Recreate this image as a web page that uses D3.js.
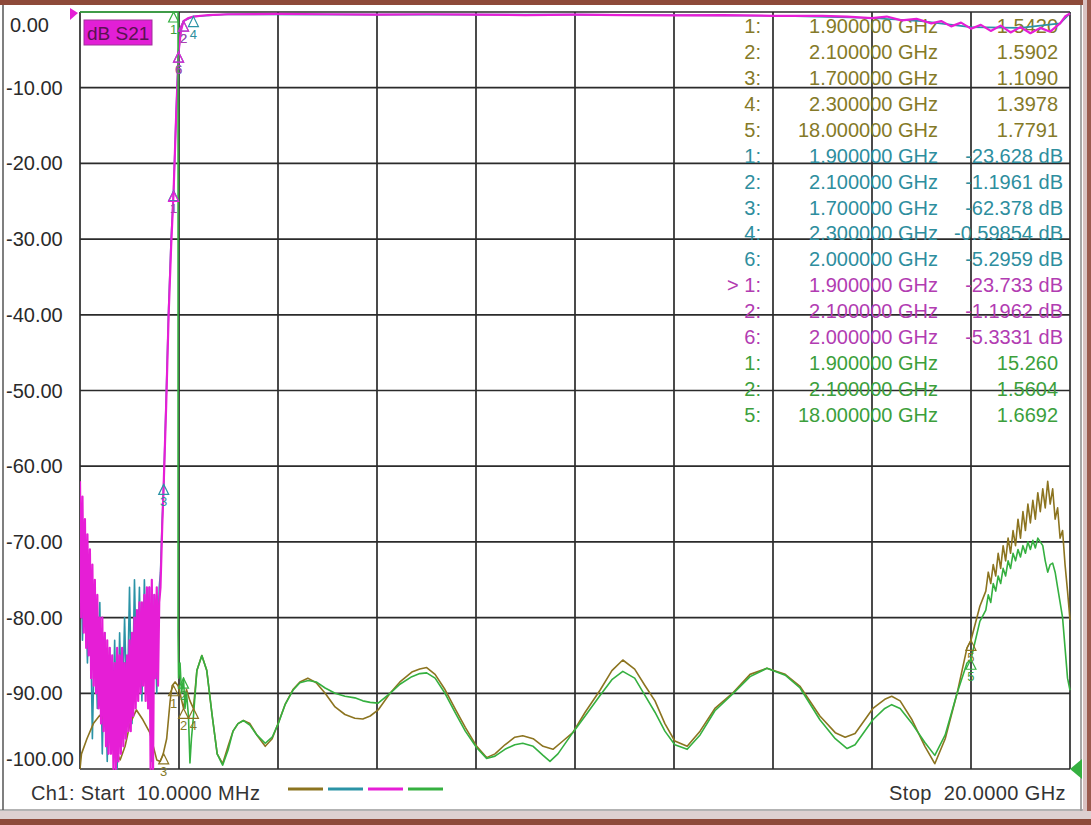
<!DOCTYPE html>
<html><head><meta charset="utf-8">
<script src="https://cdn.jsdelivr.net/npm/d3@7"></script>
<style>
html,body{margin:0;padding:0;background:#fff;}
svg{display:block;font-family:"Liberation Sans",Arial,sans-serif;}
</style></head>
<body><svg id="c" width="1091" height="825"></svg>
<script>
// ---------- DATA ----------
const freqStart = 0.01, freqStop = 20;          // GHz
const yTicks = [0,-10,-20,-30,-40,-50,-60,-70,-80,-90,-100];
const yTickLabels = ["0.00","-10.00","-20.00","-30.00","-40.00","-50.00","-60.00","-70.00","-80.00","-90.00","-100.00"];

// stop-band noise (sweep from 0.01 GHz)
const magentaNoiseStep = 0.025;
const magentaNoise = [-62,-80,-64,-82,-67,-84,-69,-85,-71,-88,-73,-89,-75,-90,-77,-92,-80,-94,-80,-95,-82,-97,-83,-98,-84,-98,-85,-100,-86,-100,-84,-99,-85,-98,-84,-97,-86,-96,-85,-95,-83,-95,-82,-93,-80,-92,-79,-91,-78,-90,-78,-89,-77,-91,-76,-92,-76,-100,-75,-100,-77,-88,-76,-89,-78];
const tealNoiseStep = 0.05;
const tealNoise = [-65,-83,-70,-86,-74,-96,-80,-92,-78,-98,-82,-99,-84,-97,-83,-100,-82,-95,-80,-93,-76,-94,-75,-90,-76,-91,-75,-88,-76,-99,-77,-90,-76];

const magentaPass = [[1.635,-76],[1.67,-68],[1.70,-62.4],[1.75,-52],[1.80,-40],[1.85,-31],[1.90,-23.7],[1.95,-14],[2.00,-5.3],[2.05,-2.4],[2.10,-1.2],[2.20,-0.8],[2.30,-0.6],[2.6,-0.4],[3,-0.3],[4,-0.25],[5,-0.3],[6,-0.35],[7,-0.3],[8,-0.35],[9,-0.4],[10,-0.35],[11,-0.4],[12,-0.45],[13,-0.4],[14,-0.5],[15,-0.5],[15.5,-0.6],[16,-0.8],[16.3,-0.6],[16.6,-1.1],[16.9,-0.9],[17.2,-1.5],[17.4,-1.2],[17.6,-1.9],[17.8,-1.4],[18.0,-2.2],[18.2,-1.7],[18.4,-2.5],[18.6,-1.8],[18.8,-2.7],[19.0,-2.0],[19.2,-2.8],[19.4,-2.1],[19.6,-2.6],[19.8,-1.5],[19.9,-0.6],[20,-0.2]];
const tealPass = [[1.635,-74],[1.67,-67],[1.70,-62.4],[1.75,-51],[1.80,-39],[1.85,-30],[1.90,-23.6],[1.95,-13.5],[2.00,-5.3],[2.05,-2.3],[2.10,-1.2],[2.30,-0.6],[3,-0.3],[6,-0.35],[10,-0.35],[14,-0.5],[16,-0.8],[17,-1.2],[18,-2.0],[19,-2.1],[19.8,-1.5],[20,-0.2]];

const brownTrace = [[0.01,-100],[0.04,-98],[0.15,-96],[0.28,-94],[0.41,-92.9],[0.51,-93.5],[0.62,-95.2],[0.72,-97.5],[0.82,-98.8],[0.92,-97],[1.02,-94],[1.15,-92.2],[1.28,-93.5],[1.42,-95.2],[1.56,-98.8],[1.63,-99],[1.69,-98],[1.76,-96],[1.83,-91],[1.87,-89],[1.93,-88.5],[1.99,-89],[2.03,-90],[2.10,-92],[2.16,-89.5],[2.23,-91],[2.30,-92],[2.37,-87],[2.47,-85],[2.57,-87],[2.68,-93],[2.78,-98],[2.89,-99.3],[3.0,-97],[3.1,-95],[3.2,-94],[3.31,-93.6],[3.44,-94],[3.58,-95.5],[3.75,-97],[3.89,-96],[4.01,-94],[4.15,-91.5],[4.31,-89.5],[4.45,-88.5],[4.61,-88],[4.78,-88.6],[4.96,-90],[5.16,-91.8],[5.36,-92.8],[5.56,-93.3],[5.72,-93.4],[5.87,-93],[6.03,-92.2],[6.27,-90],[6.47,-88.5],[6.71,-87.2],[6.87,-86.8],[7.01,-86.6],[7.18,-87.5],[7.38,-89.5],[7.58,-92],[7.79,-94.5],[8.02,-97],[8.22,-98.5],[8.39,-98],[8.59,-96.8],[8.79,-95.8],[8.95,-95.6],[9.16,-96],[9.36,-97],[9.56,-97.4],[9.76,-96.3],[9.96,-95.2],[10.21,-92.5],[10.51,-89.6],[10.75,-87],[10.97,-85.6],[11.21,-86.8],[11.42,-89],[11.62,-91],[11.82,-94],[12.02,-96.3],[12.27,-97],[12.53,-95],[12.83,-92],[13.2,-89.9],[13.54,-87.5],[13.88,-86.7],[14.25,-87.5],[14.55,-89.1],[14.95,-93],[15.26,-95.2],[15.46,-95.8],[15.66,-95.3],[16.02,-92],[16.26,-90.8],[16.4,-90.4],[16.57,-91],[16.81,-93.5],[17.07,-97],[17.27,-99.3],[17.48,-96],[17.72,-90],[17.92,-84],[18.0,-83],[18.18,-78.5],[18.30,-76.5],[18.35,-74],[18.40,-75.5],[18.45,-73],[18.50,-74.5],[18.55,-71.5],[18.60,-73.5],[18.65,-70.5],[18.70,-72.5],[18.75,-69.5],[18.80,-71.5],[18.85,-68.5],[18.90,-70.5],[18.95,-67],[19.00,-69.5],[19.05,-66],[19.10,-68.5],[19.15,-65],[19.20,-67.5],[19.25,-64.5],[19.30,-67],[19.35,-63.5],[19.40,-66],[19.45,-63],[19.50,-65.5],[19.55,-62],[19.60,-65],[19.65,-63],[19.70,-67],[19.75,-65.5],[19.80,-69.5],[19.85,-68.5],[19.90,-73],[19.95,-76.5],[20.0,-80.3]];

const greenTrace = [[0.01,0],[1.99,0],[1.99,-82],[2.0,-88],[2.03,-86],[2.06,-90],[2.10,-88],[2.13,-92],[2.16,-89.9],[2.2,-93],[2.23,-99.2],[2.26,-96],[2.30,-93.1],[2.37,-87],[2.47,-85],[2.57,-87],[2.68,-93],[2.78,-98],[2.89,-99.5],[3.0,-97.5],[3.1,-95],[3.2,-94],[3.31,-93.6],[3.44,-94.2],[3.58,-95.5],[3.75,-96.6],[3.89,-95.8],[4.02,-93.9],[4.15,-91.5],[4.31,-89.6],[4.45,-88.6],[4.62,-88.3],[4.78,-88.5],[4.96,-89.3],[5.16,-90],[5.36,-90.4],[5.56,-90.6],[5.72,-91],[5.87,-91.2],[6.03,-91.3],[6.27,-90],[6.47,-88.8],[6.71,-87.8],[6.87,-87.4],[7.01,-87.3],[7.18,-88],[7.38,-90],[7.58,-92.5],[7.79,-95],[8.02,-97.2],[8.22,-98.6],[8.39,-98.3],[8.59,-97.4],[8.79,-96.8],[8.95,-96.6],[9.16,-97],[9.36,-98.2],[9.5,-99.0],[9.66,-98],[9.96,-95.2],[10.21,-93],[10.51,-90.3],[10.75,-88.2],[10.97,-87.1],[11.21,-88],[11.42,-90.3],[11.62,-92.5],[11.82,-95],[12.02,-96.8],[12.27,-97.4],[12.53,-95.5],[12.83,-92.3],[13.2,-90],[13.54,-87.8],[13.88,-86.7],[14.25,-87.6],[14.55,-89.3],[14.95,-93.5],[15.26,-96],[15.5,-97.3],[15.66,-96.8],[16.02,-93.5],[16.26,-92],[16.4,-91.5],[16.57,-92],[16.81,-94],[17.07,-96.5],[17.27,-98.2],[17.48,-95.5],[17.72,-90],[17.92,-86],[18.0,-85.5],[18.18,-80.5],[18.30,-79],[18.35,-77],[18.40,-78],[18.45,-75.5],[18.50,-76.5],[18.55,-74.5],[18.60,-75.5],[18.65,-73.5],[18.70,-74.5],[18.75,-72.5],[18.80,-73.5],[18.85,-71.5],[18.90,-72.5],[18.95,-71],[19.00,-72],[19.05,-70.5],[19.10,-71.5],[19.15,-70],[19.20,-71],[19.25,-69.8],[19.30,-70.8],[19.35,-69.5],[19.40,-70],[19.45,-70.5],[19.50,-72.5],[19.55,-74],[19.60,-73],[19.65,-72.8],[19.70,-74],[19.75,-76],[19.80,-78],[19.85,-80],[19.90,-84],[19.95,-88],[20.0,-89.6]];

// markers [freq, plotted value, label]
const brownMarkers = [[1.9,-89,"1"],[2.1,-92,"2"],[1.7,-98,"3"],[2.3,-92,"4"],[18,-83,"5"]];
const tealMarkers = [[1.9,-23.6,"1"],[2.1,-1.2,"2"],[1.7,-62.4,"3"],[2.3,-0.6,"4"],[2.0,-5.3,"6"]];
const magentaMarkers = [[1.9,-23.7,"1"],[2.1,-1.2,"2"],[2.0,-5.3,"6"]];
const greenMarkers = [[1.9,0,"1"],[2.1,-88,"2"],[18,-85.5,"5"]];

// marker readout
const readoutNums = ["1:","2:","3:","4:","5:","1:","2:","3:","4:","6:","> 1:","2:","6:","1:","2:","5:"];
const readoutFreqs = ["1.900000 GHz","2.100000 GHz","1.700000 GHz","2.300000 GHz","18.000000 GHz","1.900000 GHz","2.100000 GHz","1.700000 GHz","2.300000 GHz","2.000000 GHz","1.900000 GHz","2.100000 GHz","2.000000 GHz","1.900000 GHz","2.100000 GHz","18.000000 GHz"];
const readoutVals = ["1.5420","1.5902","1.1090","1.3978","1.7791","-23.628 dB","-1.1961 dB","-62.378 dB","-0.59854 dB","-5.2959 dB","-23.733 dB","-1.1962 dB","-5.3331 dB","15.260","1.5604","1.6692"];
const readoutTrace = [0,0,0,0,0,1,1,1,1,1,2,2,2,3,3,3];

const traceTitle = "dB S21";
const startLabel = "Ch1: Start  10.0000 MHz";
const stopLabel = "Stop  20.0000 GHz";

// ---------- STYLE ----------
const traceColors = ["#8c7420","#2b93a6","#e61ed6","#35b040"];
const textColors = ["#857a28","#2e8e9e","#b23cb2","#3c9f3c"];

// ---------- DRAW ----------
const svg = d3.select("#c");
const L = 80, R = 1070, T = 12, B = 769;
const x = d3.scaleLinear().domain([freqStart, freqStop]).range([L, R]);
const y = d3.scaleLinear().domain([-100, 0]).range([B, T]);

// window frame
svg.append("rect").attr("x",0).attr("y",0).attr("width",1091).attr("height",825).attr("fill","#ffffff");
svg.append("rect").attr("x",0).attr("y",0).attr("width",1091).attr("height",5).attr("fill","#8e4a3a");
svg.append("rect").attr("x",1083).attr("y",0).attr("width",8).attr("height",825).attr("fill","#d9c2c2");
svg.append("rect").attr("x",1087).attr("y",0).attr("width",4).attr("height",825).attr("fill","#9a5a4e");
svg.append("line").attr("x1",1081).attr("x2",1081).attr("y1",5).attr("y2",812).attr("stroke","#8a8a8a").attr("stroke-width",1.5);
svg.append("rect").attr("x",0).attr("y",811).attr("width",1091).attr("height",14).attr("fill","#ddd0d0");
svg.append("line").attr("x1",0).attr("x2",1083).attr("y1",810).attr("y2",810).attr("stroke","#9a9a9a").attr("stroke-width",1.5);
svg.append("rect").attr("x",0).attr("y",819).attr("width",1091).attr("height",6).attr("fill","#8e4a3a");
svg.append("line").attr("x1",3).attr("x2",3).attr("y1",5).attr("y2",810).attr("stroke","#555").attr("stroke-width",1.5);

// grid
const xGrid = d3.range(11).map(i => freqStart + i * (freqStop - freqStart) / 10);
const grid = svg.append("g");
grid.selectAll("line.v").data(xGrid).join("line")
  .attr("x1", d => x(d)).attr("x2", d => x(d)).attr("y1", T).attr("y2", B)
  .attr("stroke", "#2b2b2b").attr("stroke-width", 1.7);
grid.selectAll("line.h").data(yTicks).join("line")
  .attr("x1", L).attr("x2", R).attr("y1", d => y(d)).attr("y2", d => y(d))
  .attr("stroke", "#2b2b2b").attr("stroke-width", 1.7);

// y labels
svg.append("g").selectAll("text").data(yTicks).join("text")
  .attr("x", (d,i) => yTickLabels[i].startsWith("-") ? 6 : 10)
  .attr("y", d => Math.max(25, Math.min(759, y(d))))
  .attr("dy", "0.35em")
  .attr("font-size", 20).attr("fill", "#2a2a2a")
  .text((d,i) => yTickLabels[i]);

// readout table
const ro = svg.append("g").attr("font-size", 20).style("white-space","pre");
readoutNums.forEach((n, i) => {
  const yy = 26 + i * 25.93;
  const c = textColors[readoutTrace[i]];
  ro.append("text").attr("x", 761).attr("y", yy).attr("dy","0.35em").attr("text-anchor","end").attr("fill", c).text(n);
  ro.append("text").attr("x", 938).attr("y", yy).attr("dy","0.35em").attr("text-anchor","end").attr("fill", c).text(readoutFreqs[i]);
  ro.append("text").attr("x", readoutVals[i].endsWith("dB") ? 1063 : 1058).attr("y", yy).attr("dy","0.35em").attr("text-anchor","end").attr("fill", c).text(readoutVals[i]);
});

// traces
svg.append("clipPath").attr("id","pc").append("rect").attr("x",L).attr("y",T-2).attr("width",R-L+2).attr("height",B-T+4);
const line = d3.line().x(d => x(d[0])).y(d => y(d[1]));
const tr = svg.append("g").attr("clip-path","url(#pc)").attr("fill","none").attr("stroke-linejoin","round");

const tealData = tealNoise.map((v,i) => [freqStart + i*tealNoiseStep, v]).concat(tealPass);
const magData = magentaNoise.map((v,i) => [freqStart + i*magentaNoiseStep, v]).concat(magentaPass);

tr.append("path").datum(tealData).attr("d", line).attr("stroke", traceColors[1]).attr("stroke-width", 1.6);
tr.append("path").datum(brownTrace).attr("d", line).attr("stroke", traceColors[0]).attr("stroke-width", 1.6);
tr.append("path").datum(magData).attr("d", line).attr("stroke", traceColors[2]).attr("stroke-width", 2.2);
tr.append("path").datum(greenTrace).attr("d", line).attr("stroke", traceColors[3]).attr("stroke-width", 1.6);

// markers
function drawMarkers(list, ci) {
  const g = svg.append("g");
  list.forEach(m => {
    const px = x(m[0]), py = y(m[1]);
    g.append("path").attr("d", `M${px},${py}L${px-5},${py+10}L${px+5},${py+10}Z`)
      .attr("fill","none").attr("stroke", traceColors[ci]).attr("stroke-width",1.2);
    g.append("text").attr("x", px).attr("y", py + 22).attr("text-anchor","middle")
      .attr("font-size", 13).attr("fill", textColors[ci]).text(m[2]);
  });
}
drawMarkers(brownMarkers, 0);
drawMarkers(tealMarkers, 1);
drawMarkers(magentaMarkers, 2);
drawMarkers(greenMarkers, 3);

// trace title box
svg.append("rect").attr("x",84).attr("y",20).attr("width",68).attr("height",25)
  .attr("fill","#e21fd6").attr("stroke","#a0309a").attr("stroke-width",1);
svg.append("text").attr("x",87).attr("y",33).attr("dy","0.35em").attr("font-size",19)
  .attr("fill","#5a1250").text(traceTitle);

// reference pointers
svg.append("path").attr("d", `M${L-10},${T-4}L${L-2},${T+1}L${L-10},${T+8}Z`).attr("fill", traceColors[2]);
svg.append("path").attr("d", `M${R+12},${B-10}L${R},${B}L${R+12},${B+10}Z`).attr("fill", traceColors[3]);

// bottom annotation
svg.append("text").attr("x",31).attr("y",793).attr("dy","0.35em").attr("font-size",20)
  .attr("letter-spacing",0.4).style("white-space","pre").attr("fill","#333").text(startLabel);
svg.append("text").attr("x",1066).attr("y",793).attr("dy","0.35em").attr("text-anchor","end").attr("font-size",20)
  .attr("letter-spacing",0.4).style("white-space","pre").attr("fill","#333").text(stopLabel);

// legend swatches
const lg = svg.append("g");
traceColors.forEach((c, i) => {
  lg.append("line").attr("x1", 288 + i*40).attr("x2", 323 + i*40).attr("y1", 789).attr("y2", 789)
    .attr("stroke", c).attr("stroke-width", 3);
});
</script></body></html>
